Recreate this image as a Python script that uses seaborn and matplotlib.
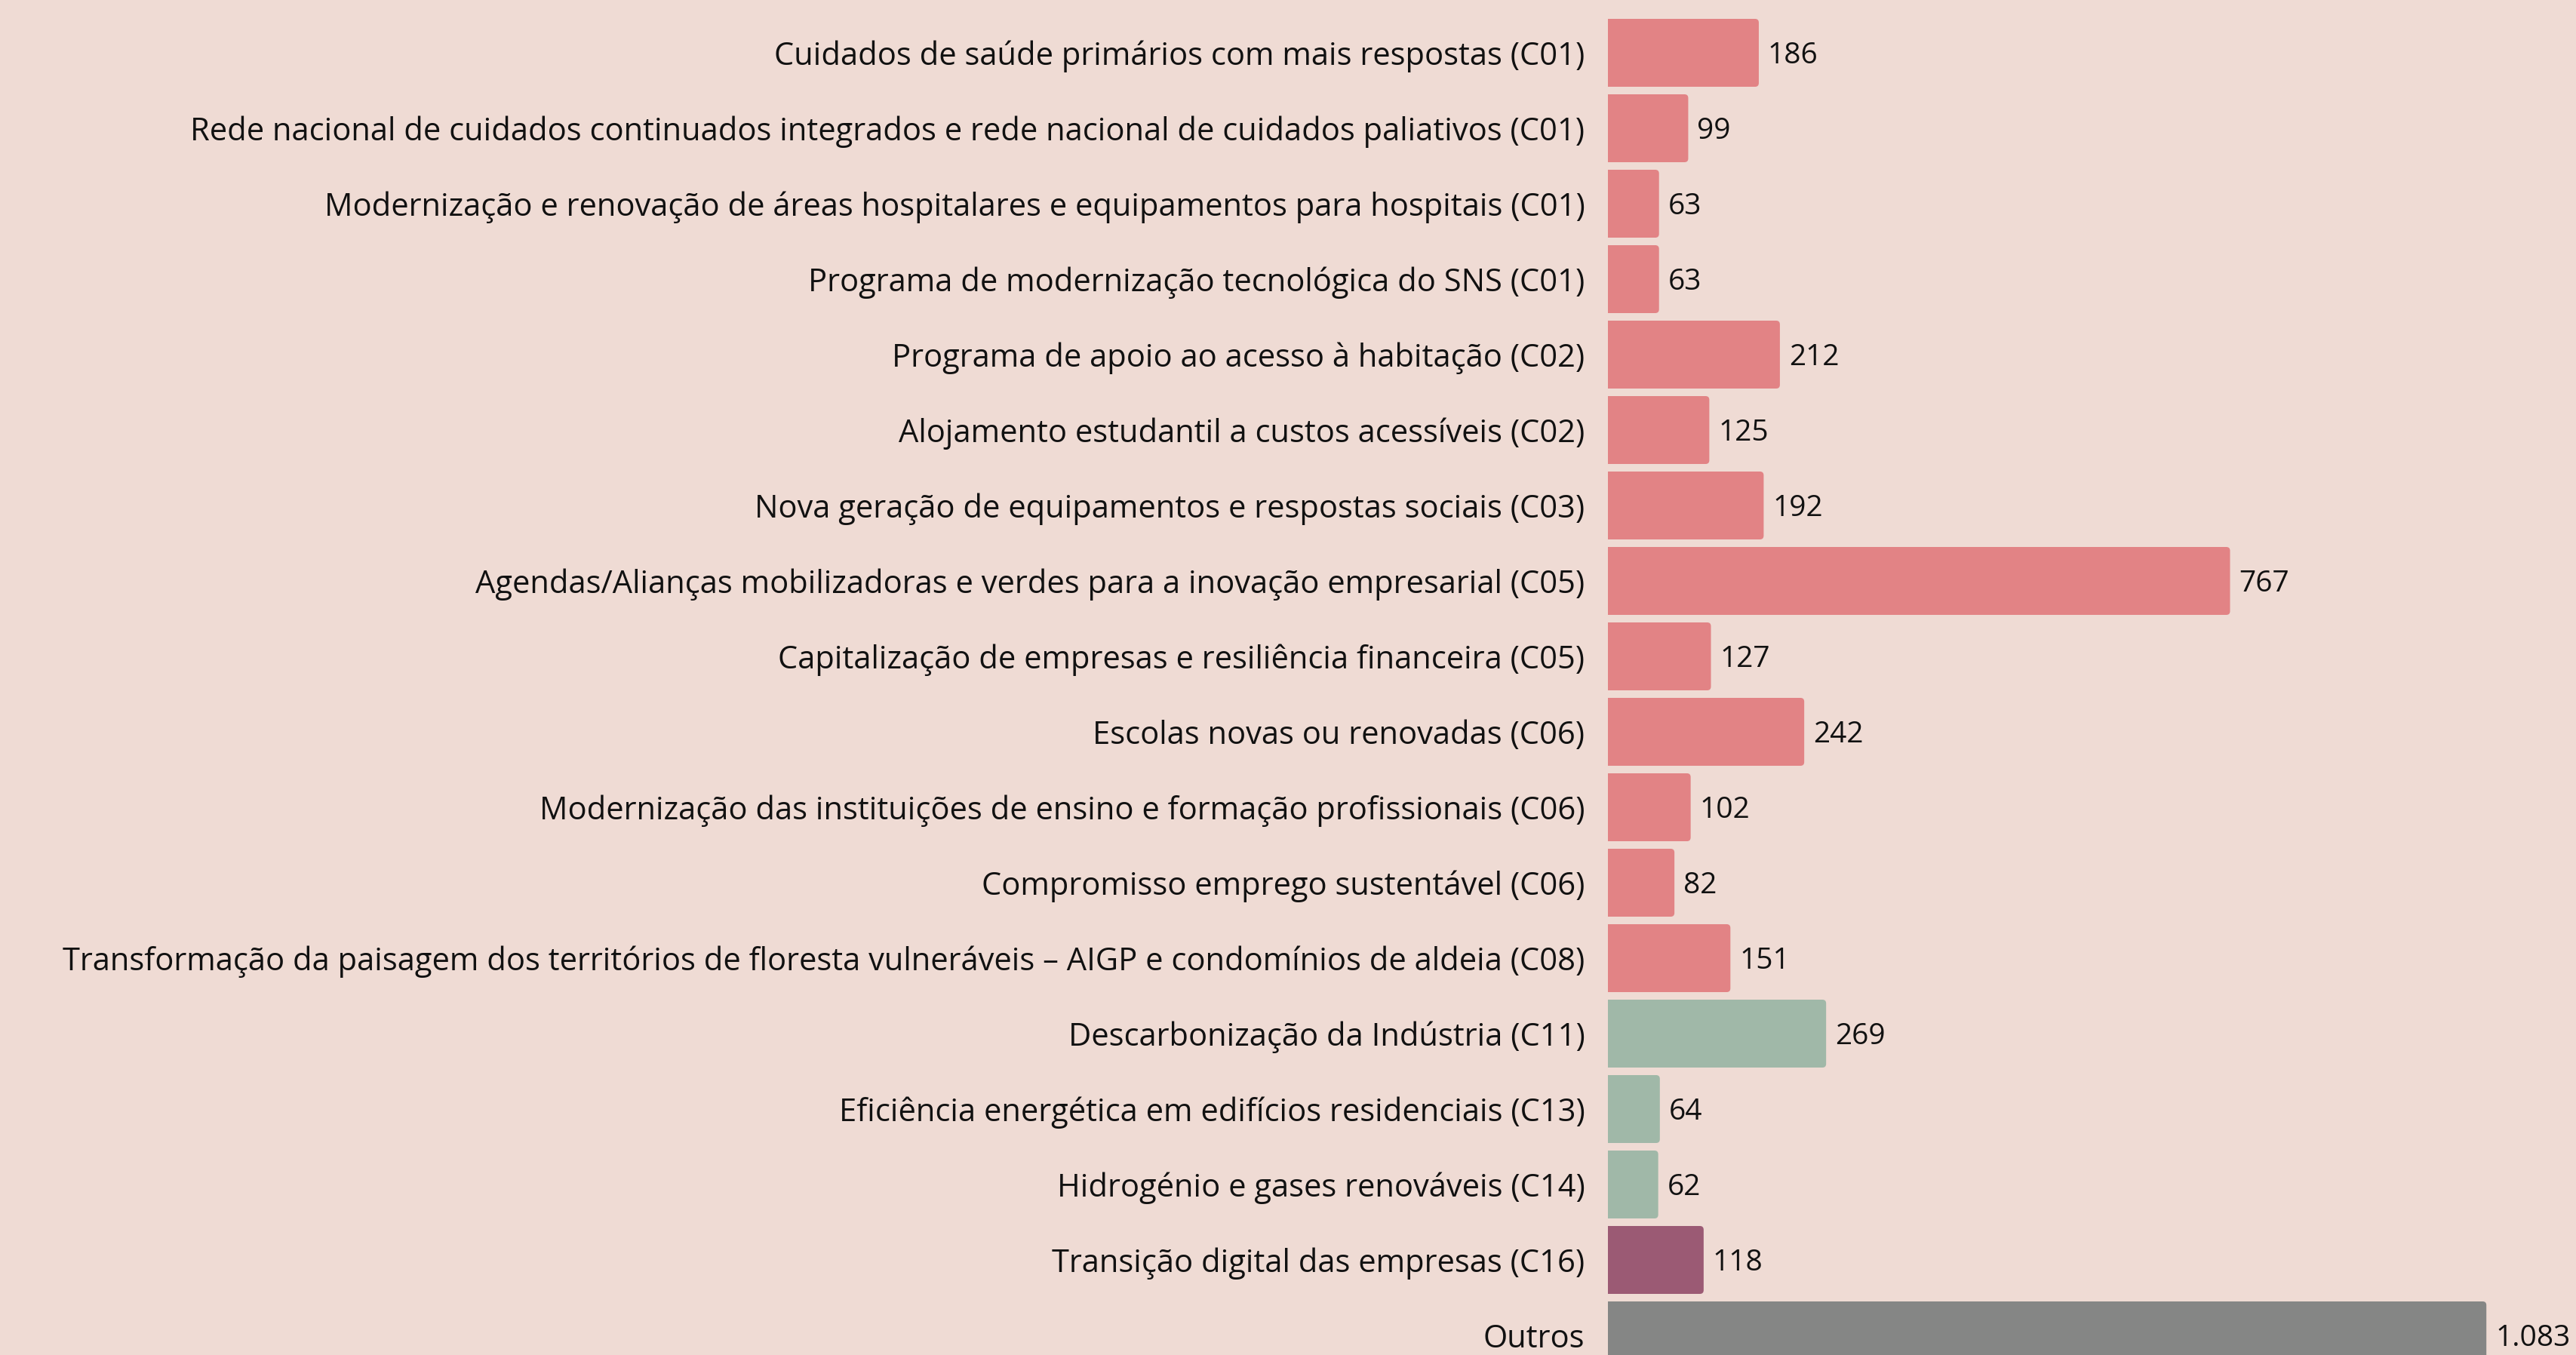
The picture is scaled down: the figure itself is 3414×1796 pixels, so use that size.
import pandas as pd
import matplotlib.pyplot as plt
import seaborn as sns
from matplotlib.patches import FancyBboxPatch

labels = [
    "Cuidados de saúde primários com mais respostas (C01)",
    "Rede nacional de cuidados continuados integrados e rede nacional de cuidados paliativos (C01)",
    "Modernização e renovação de áreas hospitalares e equipamentos para hospitais (C01)",
    "Programa de modernização tecnológica do SNS (C01)",
    "Programa de apoio ao acesso à habitação (C02)",
    "Alojamento estudantil a custos acessíveis (C02)",
    "Nova geração de equipamentos e respostas sociais (C03)",
    "Agendas/Alianças mobilizadoras e verdes para a inovação empresarial (C05)",
    "Capitalização de empresas e resiliência financeira (C05)",
    "Escolas novas ou renovadas (C06)",
    "Modernização das instituições de ensino e formação profissionais (C06)",
    "Compromisso emprego sustentável (C06)",
    "Transformação da paisagem dos territórios de floresta vulneráveis – AIGP e condomínios de aldeia (C08)",
    "Descarbonização da Indústria (C11)",
    "Eficiência energética em edifícios residenciais (C13)",
    "Hidrogénio e gases renováveis (C14)",
    "Transição digital das empresas (C16)",
    "Outros",
]
values = [186, 99, 63, 63, 212, 125, 192, 767, 127, 242, 102, 82, 151, 269, 64, 62, 118, 1083]
groups = ["resiliencia"] * 13 + ["climatica"] * 3 + ["digital", "outros"]

group_colors = {
    "resiliencia": "#E28385",
    "climatica": "#A0B8A8",
    "digital": "#9B5A74",
    "outros": "#858685",
}
bg = "#EFDBD4"

df = pd.DataFrame({"label": labels, "value": values, "group": groups})

plt.rcParams["font.family"] = ["Open Sans", "DejaVu Sans"]
fig = plt.figure(figsize=(34.14, 17.96), dpi=100, facecolor=bg)
ax = fig.add_axes([2131 / 3414, 0, 1 - 2131 / 3414, 1])
ax.set_facecolor(bg)

sns.barplot(data=df, x="value", y="label", hue="group", palette=group_colors,
            dodge=False, width=0.9, legend=False, ax=ax, saturation=1)

ax.set_xlim(0, 1193.5)
ax.set_ylim(17.26, -0.7)

# rounded ends on the bars
for p in list(ax.patches):
    x, y, w, h = p.get_x(), p.get_y(), p.get_width(), p.get_height()
    if w <= 0:
        continue
    rb = FancyBboxPatch((x - 10, y), w + 10, h,
                        boxstyle="round,pad=0,rounding_size=4.6",
                        mutation_aspect=0.0108,
                        facecolor=p.get_facecolor(), edgecolor="none")
    p.remove()
    ax.add_patch(rb)

for i, v in enumerate(values):
    txt = f"{v:,}".replace(",", ".")
    ax.text(v + 11, i, txt, va="center_baseline", ha="left", fontsize=28,
            color="#111111")

ax.set_xlabel("")
ax.set_ylabel("")
ax.set_xticks([])
ax.tick_params(axis="y", length=0, pad=22, labelsize=30, labelcolor="#111111")
for s in ax.spines.values():
    s.set_visible(False)

plt.savefig("out.png", dpi=100, facecolor=bg)
